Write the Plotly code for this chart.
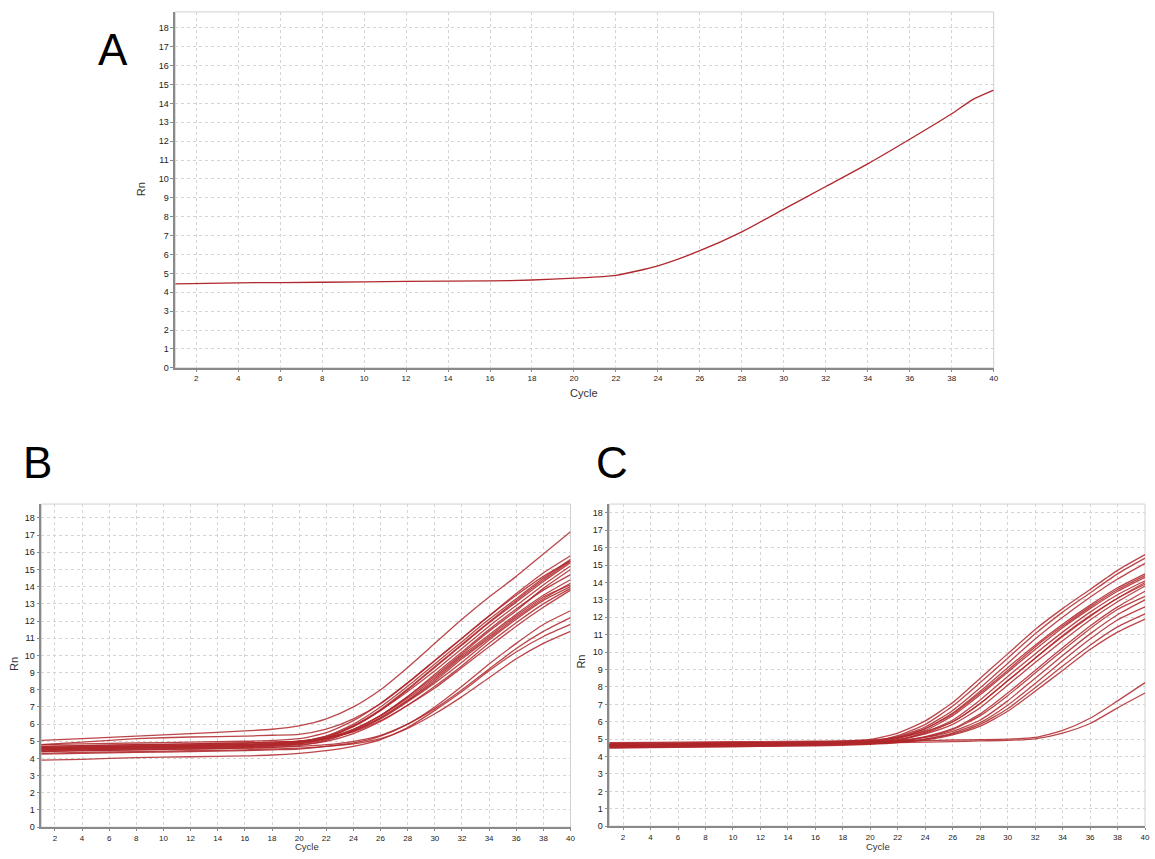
import plotly.graph_objects as go

# ---------------- data ----------------
A_CYCLES = [1, 4, 8, 12, 16, 18, 20, 22, 24, 26, 28, 30, 32, 34, 36, 38, 39, 40]
A_RN = [4.45, 4.5, 4.53, 4.58, 4.6, 4.65, 4.75, 4.9, 5.4, 6.2, 7.2, 8.4, 9.6, 10.8, 12.1, 13.45, 14.2, 14.7]

CYCLES = [1, 4, 8, 12, 16, 18, 20, 22, 24, 26, 28, 30, 32, 34, 36, 38, 40]

b01 = [5.05, 5.15, 5.3, 5.45, 5.6, 5.7, 5.9, 6.3, 7.0, 8.0, 9.3, 10.7, 12.1, 13.4, 14.6, 15.9, 17.2]
b02 = [4.8, 4.85, 4.9, 4.95, 5.0, 5.05, 5.15, 5.5, 6.2, 7.2, 8.4, 9.7, 11.0, 12.3, 13.6, 14.8, 15.8]
b03 = [4.6, 4.65, 4.7, 4.75, 4.8, 4.85, 4.95, 5.3, 6.0, 7.0, 8.2, 9.5, 10.8, 12.1, 13.3, 14.5, 15.6]
b04 = [4.5, 4.55, 4.6, 4.65, 4.7, 4.75, 4.85, 5.2, 5.85, 6.8, 8.0, 9.3, 10.6, 11.9, 13.1, 14.3, 15.4]
b05 = [4.7, 4.75, 4.8, 4.85, 4.9, 4.95, 5.0, 5.3, 5.9, 6.8, 7.9, 9.1, 10.4, 11.7, 12.9, 14.1, 15.2]
b06 = [4.4, 4.45, 4.5, 4.55, 4.6, 4.65, 4.75, 5.05, 5.65, 6.5, 7.6, 8.8, 10.1, 11.4, 12.6, 13.9, 15.0]
b07 = [4.55, 4.6, 4.65, 4.7, 4.75, 4.8, 4.9, 5.15, 5.7, 6.5, 7.6, 8.9, 10.2, 11.5, 12.7, 13.8, 14.7]
b08 = [4.6, 4.65, 4.7, 4.75, 4.8, 4.85, 4.95, 5.2, 5.7, 6.5, 7.5, 8.7, 10.0, 11.2, 12.4, 13.5, 14.4]
b09 = [4.5, 4.55, 4.6, 4.65, 4.7, 4.75, 4.85, 5.1, 5.6, 6.35, 7.35, 8.5, 9.8, 11.0, 12.2, 13.3, 14.2]
b10 = [4.7, 4.75, 4.8, 4.85, 4.9, 4.95, 5.0, 5.2, 5.6, 6.3, 7.3, 8.4, 9.6, 10.9, 12.1, 13.2, 14.0]
b11 = [4.45, 4.5, 4.55, 4.6, 4.65, 4.7, 4.8, 5.0, 5.45, 6.15, 7.1, 8.2, 9.4, 10.7, 11.9, 13.0, 13.9]
b12 = [4.65, 4.7, 4.75, 4.8, 4.85, 4.9, 5.0, 5.2, 5.55, 6.2, 7.1, 8.1, 9.3, 10.5, 11.7, 12.8, 13.8]
b13 = [4.8, 4.95, 5.15, 5.25, 5.3, 5.35, 5.4, 5.7, 6.3, 7.2, 8.4, 9.7, 11.0, 12.3, 13.5, 14.6, 15.5]
b14 = [4.25, 4.3, 4.35, 4.4, 4.45, 4.5, 4.55, 4.7, 4.9, 5.3, 6.0, 7.0, 8.2, 9.5, 10.7, 11.8, 12.6]
b15 = [4.4, 4.45, 4.5, 4.55, 4.6, 4.65, 4.7, 4.8, 5.0, 5.35, 6.0, 6.9, 8.0, 9.2, 10.4, 11.4, 12.2]
b16 = [3.9, 3.95, 4.05, 4.1, 4.15, 4.2, 4.3, 4.45, 4.7, 5.1, 5.8, 6.8, 7.9, 9.1, 10.2, 11.1, 11.8]
b17 = [4.3, 4.35, 4.4, 4.45, 4.5, 4.55, 4.6, 4.7, 4.85, 5.15, 5.75, 6.6, 7.6, 8.7, 9.8, 10.7, 11.4]
b18 = [4.55, 4.6, 4.62, 4.66, 4.72, 4.78, 4.9, 5.25, 5.9, 6.85, 8.05, 9.35, 10.65, 11.95, 13.2, 14.4, 15.5]
b19 = [4.62, 4.66, 4.7, 4.74, 4.8, 4.85, 4.95, 5.15, 5.6, 6.4, 7.4, 8.6, 9.9, 11.1, 12.3, 13.4, 14.1]
B_SERIES = [b01, b02, b03, b04, b05, b06, b07, b08, b09, b10,
            b11, b12, b13, b14, b15, b16, b17, b18, b19]

c01 = [4.75, 4.78, 4.8, 4.82, 4.85, 4.88, 4.98, 5.35, 6.05, 7.1, 8.5, 9.9, 11.3, 12.5, 13.6, 14.7, 15.6]
c02 = [4.6, 4.63, 4.66, 4.7, 4.74, 4.77, 4.85, 5.2, 5.85, 6.9, 8.25, 9.65, 11.05, 12.3, 13.4, 14.5, 15.4]
c03 = [4.7, 4.72, 4.75, 4.78, 4.82, 4.85, 4.9, 5.15, 5.7, 6.65, 7.95, 9.35, 10.75, 12.0, 13.15, 14.2, 15.1]
c04 = [4.55, 4.58, 4.62, 4.66, 4.7, 4.73, 4.8, 5.05, 5.6, 6.5, 7.75, 9.1, 10.4, 11.6, 12.7, 13.7, 14.5]
c05 = [4.65, 4.67, 4.7, 4.74, 4.78, 4.8, 4.86, 5.05, 5.5, 6.35, 7.55, 8.85, 10.15, 11.4, 12.5, 13.5, 14.3]
c06 = [4.5, 4.53, 4.57, 4.6, 4.65, 4.7, 4.76, 4.95, 5.4, 6.1, 7.25, 8.6, 9.9, 11.15, 12.3, 13.3, 14.1]
c07 = [4.8, 4.82, 4.84, 4.86, 4.88, 4.9, 4.95, 5.1, 5.45, 6.0, 7.05, 8.35, 9.65, 10.9, 12.05, 13.1, 14.0]
c08 = [4.6, 4.62, 4.65, 4.68, 4.72, 4.75, 4.8, 4.95, 5.3, 5.85, 6.8, 8.1, 9.4, 10.65, 11.85, 12.9, 13.8]
c09 = [4.55, 4.57, 4.6, 4.63, 4.67, 4.7, 4.75, 4.88, 5.15, 5.6, 6.45, 7.65, 8.95, 10.25, 11.5, 12.6, 13.5]
c10 = [4.7, 4.71, 4.73, 4.75, 4.78, 4.8, 4.83, 4.92, 5.1, 5.45, 6.1, 7.2, 8.5, 9.8, 11.05, 12.15, 13.0]
c11 = [4.5, 4.52, 4.55, 4.58, 4.62, 4.65, 4.7, 4.8, 5.0, 5.35, 5.95, 6.95, 8.2, 9.5, 10.75, 11.85, 12.6]
c12 = [4.65, 4.66, 4.68, 4.7, 4.73, 4.75, 4.78, 4.85, 5.0, 5.3, 5.85, 6.75, 7.95, 9.2, 10.4, 11.45, 12.2]
c13 = [4.6, 4.61, 4.63, 4.66, 4.7, 4.72, 4.75, 4.82, 4.95, 5.25, 5.75, 6.6, 7.75, 8.95, 10.15, 11.15, 11.9]
c14 = [4.7, 4.72, 4.75, 4.78, 4.82, 4.85, 4.88, 4.9, 4.92, 4.95, 4.97, 5.0, 5.1, 5.5, 6.2, 7.2, 8.25]
c15 = [4.6, 4.62, 4.65, 4.68, 4.72, 4.75, 4.78, 4.8, 4.83, 4.86, 4.9, 4.93, 5.02, 5.35, 5.9, 6.8, 7.65]
c16 = [4.68, 4.7, 4.72, 4.75, 4.79, 4.82, 4.88, 5.1, 5.6, 6.45, 7.65, 8.95, 10.3, 11.5, 12.6, 13.6, 14.4]
c17 = [4.58, 4.6, 4.63, 4.67, 4.71, 4.74, 4.79, 4.97, 5.35, 6.0, 7.05, 8.35, 9.65, 10.95, 12.1, 13.1, 13.9]
c18 = [4.52, 4.55, 4.58, 4.62, 4.66, 4.7, 4.74, 4.86, 5.12, 5.55, 6.35, 7.5, 8.8, 10.1, 11.35, 12.45, 13.2]
C_SERIES = [c01, c02, c03, c04, c05, c06, c07, c08, c09, c10,
            c11, c12, c13, c14, c15, c16, c17, c18]

Y_TICKS = list(range(0, 19))
X_TICKS = list(range(2, 41, 2))

# ---------------- style ----------------
LINE = "rgb(176,40,44)"
W, H = 1155, 859
FONT = "Liberation Sans, Arial, sans-serif"

fig = go.Figure()

fig.add_trace(go.Scatter(x=A_CYCLES, y=A_RN, mode="lines", xaxis="x", yaxis="y",
                         line=dict(color=LINE, width=1.3, shape="spline", smoothing=0.6),
                         showlegend=False, hoverinfo="skip"))
for s in B_SERIES:
    fig.add_trace(go.Scatter(x=CYCLES, y=s, mode="lines", xaxis="x2", yaxis="y2",
                             line=dict(color=LINE, width=1.3, shape="spline", smoothing=0.6),
                             opacity=0.85, showlegend=False, hoverinfo="skip"))
for s in C_SERIES:
    fig.add_trace(go.Scatter(x=CYCLES, y=s, mode="lines", xaxis="x3", yaxis="y3",
                             line=dict(color=LINE, width=1.3, shape="spline", smoothing=0.6),
                             opacity=0.85, showlegend=False, hoverinfo="skip"))


def px_x(p):
    return p / W


def px_y(p):
    return 1 - p / H


def xaxis(dom, anchor):
    return dict(domain=dom, anchor=anchor, range=[1, 40], tickvals=X_TICKS,
                ticktext=[str(v) for v in X_TICKS],
                showgrid=True, gridcolor="#d4d4d4", griddash="dot", gridwidth=1,
                showline=True, linecolor="#8a8a8a", linewidth=1.5,
                ticks="outside", ticklen=2, tickcolor="#8a8a8a",
                tickfont=dict(size=8, color="#222", family=FONT),
                zeroline=False, fixedrange=True)


def yaxis(dom, anchor, top):
    return dict(domain=dom, anchor=anchor, range=[0, top], tickvals=Y_TICKS,
                showgrid=True, gridcolor="#d4d4d4", griddash="dot", gridwidth=1,
                showline=True, linecolor="#8a8a8a", linewidth=1.5,
                ticks="outside", ticklen=3, tickcolor="#8a8a8a",
                tickfont=dict(size=9, color="#222", family=FONT),
                zeroline=False, fixedrange=True)


fig.update_layout(
    width=W, height=H, margin=dict(l=0, r=0, t=0, b=0),
    paper_bgcolor="white", plot_bgcolor="white",
    font=dict(family=FONT),
    xaxis=xaxis([px_x(176), px_x(998)], "y"),
    yaxis=yaxis([px_y(370), px_y(12)], "x", 18.84),
    xaxis2=xaxis([px_x(41.5), px_x(573)], "y2"),
    yaxis2=yaxis([px_y(832), px_y(507)], "x2", 18.81),
    xaxis3=xaxis([px_x(612), px_x(1150)], "y3"),
    yaxis3=yaxis([px_y(831), px_y(507)], "x3", 18.51),
)

shapes = []
for xr, yr in [("x", "y"), ("x2", "y2"), ("x3", "y3")]:
    shapes.append(dict(type="rect", xref=f"{xr} domain", yref=f"{yr} domain",
                       x0=0, x1=1, y0=0, y1=1, line=dict(color="#d0d0d0", width=1),
                       layer="below"))
fig.update_layout(shapes=shapes)

ann = []
# panel letters
for txt, x, y in [("A", 113, 50), ("B", 38, 465), ("C", 615, 465)]:
    ann.append(dict(text=txt, x=px_x(x), y=px_y(y), xref="paper", yref="paper",
                    showarrow=False, xanchor="center", yanchor="middle",
                    font=dict(size=44, color="black", family=FONT)))
# axis titles
for x, y in [(142, 190), (14, 668), (584, 665)]:
    ann.append(dict(text="Rn", x=px_x(x), y=px_y(y), xref="paper", yref="paper",
                    showarrow=False, textangle=-90, xanchor="center", yanchor="middle",
                    font=dict(size=11, color="#333", family=FONT)))
for x, y, yanc, fs in [(587, 395, "middle", 11), (308, 859.5, "bottom", 9.5),
                       (882, 859.5, "bottom", 9.5)]:
    ann.append(dict(text="Cycle", x=px_x(x), y=px_y(y), xref="paper", yref="paper",
                    showarrow=False, xanchor="center", yanchor=yanc,
                    font=dict(size=fs, color="#333", family=FONT)))
fig.update_layout(annotations=ann)

fig.write_html("out.html", config={"displayModeBar": False},
               post_script="document.body.style.margin='0';document.body.style.overflow='hidden';")
